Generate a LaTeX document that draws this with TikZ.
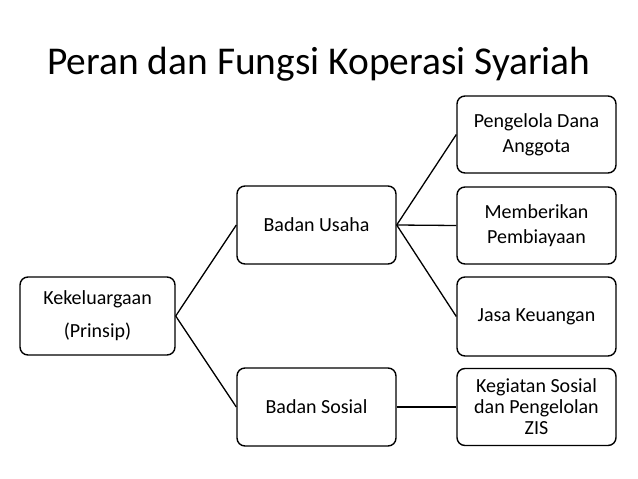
\documentclass[tikz,border=0pt]{standalone}
\usepackage{fontspec}
\setmainfont{Carlito}
\begin{document}
\begin{tikzpicture}[x=1pt,y=-1pt,
  box/.style={draw=black, line width=1.4pt, rounded corners=8pt, fill=white, align=center, font=\fontsize{20}{25}\selectfont, inner sep=0pt},
  link/.style={draw=black, line width=1.3pt}]
\useasboundingbox (0,0) rectangle (638,479);
\node[font=\fontsize{39.4}{46}\selectfont, anchor=base] (title) at (319,74) {Peran dan Fungsi Koperasi Syariah};
\node[box, minimum width=155pt, minimum height=78pt, font=\fontsize{20}{33}\selectfont] (kel) at (97.5,316) {Kekeluargaan\\(Prinsip)};
\node[box, minimum width=159pt, minimum height=78pt] (usaha) at (316.5,225) {Badan Usaha};
\node[box, minimum width=159pt, minimum height=78pt] (sosial) at (316.5,407) {Badan Sosial};
\node[box, minimum width=159pt, minimum height=77pt] (r1) at (536.5,134.5) {Pengelola Dana\\Anggota};
\node[box, minimum width=159pt, minimum height=77pt] (r2) at (536.5,225.5) {Memberikan\\Pembiayaan};
\node[box, minimum width=159pt, minimum height=79pt] (r3) at (536.5,316.5) {Jasa Keuangan};
\node[box, minimum width=159pt, minimum height=77pt, font=\fontsize{20}{21}\selectfont] (r4) at (536.5,407) {Kegiatan Sosial\\dan Pengelolan\\ZIS};
\draw[link] (kel.east) -- (usaha.west);
\draw[link] (kel.east) -- (sosial.west);
\draw[link] (usaha.east) -- (r1.west);
\draw[link] (usaha.east) -- (r2.west);
\draw[link] (usaha.east) -- (r3.west);
\draw[link] (sosial.east) -- (r4.west);
\end{tikzpicture}
\end{document}
